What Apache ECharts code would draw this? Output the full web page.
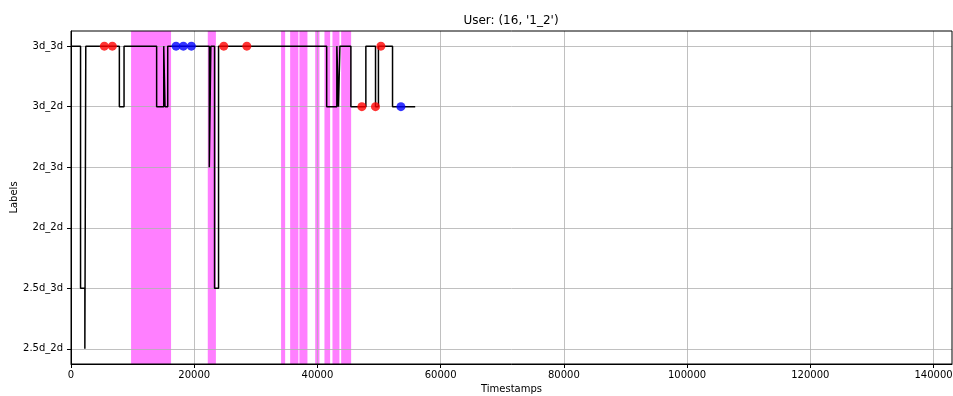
<!DOCTYPE html>
<html>
<head>
<meta charset="utf-8">
<script src="https://cdn.jsdelivr.net/npm/echarts@6/dist/echarts.min.js"></script>
<style>
  html, body { margin: 0; padding: 0; background: #fff; }
  #chart { width: 953px; height: 396px; }
</style>
</head>
<body>
<div id="chart"></div>
<script>
// Label categories, bottom to top
const labelNames = ['2.5d_2d', '2.5d_3d', '2d_2d', '2d_3d', '3d_2d', '3d_3d'];
const labelTicks = [0, 1, 2, 3, 4, 5];
const xTicks = [0, 20000, 40000, 60000, 80000, 100000, 120000, 140000];

// Label changes over time (held until the next change)
const stepTimes = [100, 1550, 2250, 2400, 7850, 8610, 13900, 15050, 15260, 15700,
  22450, 22700, 23300, 23950, 41500, 43150, 43410, 43650, 45430, 47860,
  49430, 49900, 52190, 55870];
const stepLabels = ['3d_3d', '2.5d_3d', '2.5d_2d', '3d_3d', '3d_2d', '3d_3d', '3d_2d', '3d_3d', '3d_2d', '3d_3d',
  '2d_3d', '3d_3d', '2.5d_3d', '3d_3d', '3d_2d', '3d_3d', '3d_2d', '3d_3d', '3d_2d', '3d_3d',
  '3d_2d', '3d_3d', '3d_2d', '3d_2d'];

// Marked events
const redTimes = [5410, 6710, 24800, 28540, 47210, 49420, 50300];
const redLabels = ['3d_3d', '3d_3d', '3d_3d', '3d_3d', '3d_2d', '3d_2d', '3d_3d'];
const blueTimes = [17050, 18240, 19540, 53550];
const blueLabels = ['3d_3d', '3d_3d', '3d_3d', '3d_2d'];

// Highlighted time spans
const bandStarts = [9750, 22200, 34100, 35570, 37070, 39640, 41140, 42440, 43850];
const bandEnds   = [16240, 23520, 34760, 36910, 38380, 40330, 42060, 43570, 45470];

const yMin = -0.25, yMax = 5.25;
const toIdx = (l) => labelNames.indexOf(l);

const chart = echarts.init(document.getElementById('chart'), null, { renderer: 'canvas' });

const axisText = { color: '#000', fontFamily: 'DejaVu Sans', fontSize: 10 };

chart.setOption({
  animation: false,
  backgroundColor: '#fff',
  grid: {
    left: 71, right: 1, top: 31, bottom: 32,
    containLabel: false, outerBoundsMode: 'none',
    show: true, borderColor: '#000', borderWidth: 1, backgroundColor: 'transparent', z: 4
  },
  graphic: [{
    type: 'text', x: 511, y: 21, z: 10,
    style: {
      text: "User: (16, '1_2')", fill: '#000', font: '12px "DejaVu Sans"',
      textAlign: 'center', textVerticalAlign: 'middle'
    }
  }],
  xAxis: {
    type: 'value', min: 0, max: 143000, z: 3,
    name: 'Timestamps', nameLocation: 'middle', nameGap: 20, nameMoveOverlap: false,
    nameTextStyle: axisText,
    axisLine: { show: true, onZero: false, lineStyle: { color: '#000', width: 1 } },
    axisTick: { show: true, length: 4, customValues: xTicks, lineStyle: { color: '#000' } },
    axisLabel: Object.assign({ margin: 6, customValues: xTicks, formatter: (v) => String(v) }, axisText),
    splitLine: { show: true, lineStyle: { color: '#b0b0b0', width: 0.8 } }
  },
  yAxis: {
    type: 'value', min: yMin, max: yMax, z: 3,
    name: 'Labels', nameLocation: 'middle', nameGap: 52, nameRotate: 90, nameMoveOverlap: false,
    nameTextStyle: axisText,
    axisLine: { show: true, onZero: false, lineStyle: { color: '#000', width: 1 } },
    axisTick: { show: true, length: 4, customValues: labelTicks, lineStyle: { color: '#000' } },
    axisLabel: Object.assign({ margin: 8, customValues: labelTicks, formatter: (v) => labelNames[Math.round(v)] || '' }, axisText),
    splitLine: { show: true, lineStyle: { color: '#b0b0b0', width: 0.8 } }
  },
  series: [
    {
      type: 'custom', z: 1, silent: true,
      data: bandStarts.map((s, i) => [s, bandEnds[i]]),
      encode: { x: [0, 1] },
      renderItem: (params, api) => {
        const p0 = api.coord([api.value(0), yMax]);
        const p1 = api.coord([api.value(1), yMin]);
        return {
          type: 'rect',
          shape: { x: p0[0], y: p0[1], width: p1[0] - p0[0], height: p1[1] - p0[1] },
          style: { fill: 'rgba(255,0,255,0.5)' }
        };
      }
    },
    {
      type: 'line', z: 5, step: 'end', showSymbol: false, silent: true,
      data: stepTimes.map((t, i) => [t, toIdx(stepLabels[i])]),
      lineStyle: { color: '#000', width: 1.5 }
    },
    {
      type: 'scatter', z: 6, symbolSize: 9, silent: true,
      data: redTimes.map((t, i) => [t, toIdx(redLabels[i])]),
      itemStyle: { color: '#ff0000' }
    },
    {
      type: 'scatter', z: 6, symbolSize: 9, silent: true,
      data: blueTimes.map((t, i) => [t, toIdx(blueLabels[i])]),
      itemStyle: { color: '#0000ff' }
    }
  ]
});
</script>
</body>
</html>
